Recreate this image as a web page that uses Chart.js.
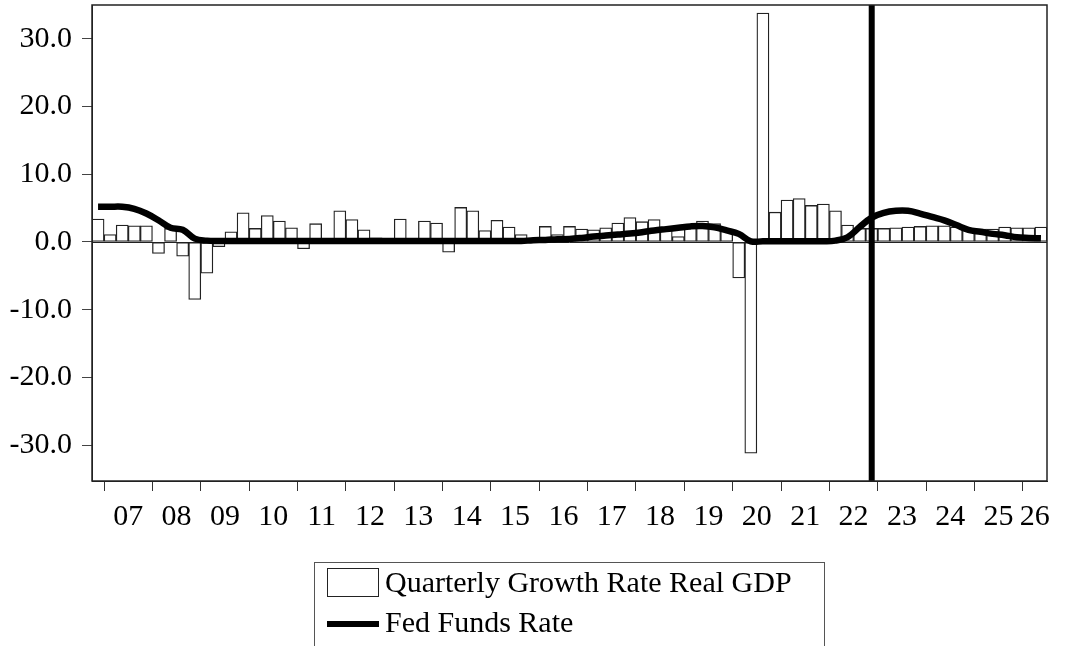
<!DOCTYPE html>
<html>
<head>
    <meta charset="utf-8" />
    <title>Real GDP Growth and Fed Funds Rate</title>
    <!-- Chart.js -->
    <script src="https://cdn.jsdelivr.net/npm/chart.js@4.4.0/dist/chart.umd.min.js"></script>
    <style>
        body { margin: 0; background: #fff; }
        #wrap { width: 1065px; height: 646px; position: relative; }
    </style>
</head>
<body>
<div id="wrap"><canvas id="myChart"></canvas></div>
<script>

// quarters 2006Q4 .. 2026Q2
var quarters = ['2006Q4'];
for (var yr = 2007; yr <= 2026; yr++) {
    for (var q = 1; q <= 4; q++) {
        if (yr === 2026 && q > 2) break;
        quarters.push(yr + 'Q' + q);
    }
}

// quarterly growth rate of real GDP (annualised, %)
var gdpGrowth = [
    3.4,
    1.1, 2.5, 2.4, 2.4,      // 2007
    -1.7, 2.0, -2.1, -8.5,   // 2008
    -4.6, -0.7, 1.5, 4.3,    // 2009
    2.0, 3.9, 3.1, 2.1,      // 2010
    -1.0, 2.7, -0.1, 4.6,    // 2011
    3.3, 1.8, 0.6, 0.1,      // 2012
    3.4, 0.3, 3.1, 2.8,      // 2013
    -1.5, 5.1, 4.6, 1.7,     // 2014
    3.2, 2.2, 1.1, 0.3,      // 2015
    2.3, 1.1, 2.3, 1.9,      // 2016
    1.8, 2.1, 2.8, 3.6,      // 2017
    3.0, 3.3, 1.9, 0.8,      // 2018
    2.3, 3.1, 2.7, 1.8,      // 2019
    -5.3, -31.2, 33.8, 4.4,  // 2020
    6.2, 6.4, 5.4, 5.6,      // 2021
    4.6, 2.5, 2.0, 2.0,      // 2022
    2.0, 2.1, 2.2, 2.3,      // 2023
    2.4, 2.4, 2.2, 2.0,      // 2024
    1.9, 1.9, 2.2, 2.1,      // 2025
    2.1, 2.2                 // 2026
];

// effective fed funds rate (%)
var fedFunds = [
    5.2,
    5.2, 5.2, 4.9, 4.2,      // 2007
    3.2, 2.1, 1.8, 0.5,      // 2008
    0.2, 0.15, 0.15, 0.15,   // 2009
    0.15, 0.15, 0.15, 0.15,  // 2010
    0.15, 0.15, 0.15, 0.15,  // 2011
    0.15, 0.15, 0.15, 0.15,  // 2012
    0.15, 0.15, 0.15, 0.15,  // 2013
    0.15, 0.15, 0.15, 0.15,  // 2014
    0.15, 0.15, 0.15, 0.25,  // 2015
    0.3, 0.4, 0.45, 0.6,     // 2016
    0.8, 0.95, 1.1, 1.25,    // 2017
    1.45, 1.7, 1.9, 2.1,     // 2018
    2.3, 2.35, 2.15, 1.7,    // 2019
    1.2, 0.1, 0.1, 0.1,      // 2020
    0.1, 0.1, 0.1, 0.1,      // 2021
    0.2, 0.7, 2.2, 3.6,      // 2022
    4.3, 4.6, 4.6, 4.2,      // 2023
    3.7, 3.2, 2.5, 1.8,      // 2024
    1.5, 1.2, 1.0, 0.7,      // 2025
    0.6, 0.55                // 2026
];

var yTicks = [-30, -20, -10, 0, 10, 20, 30];
var forecastStart = '2022Q4';

var FONT = '"Liberation Serif", "Times New Roman", serif';
var FONT_SIZE = 30;

// box round the plot, zero line, forecast marker and the legend
var framePlugin = {
    id: 'frame',
    beforeDatasetsDraw: function(chart) {
        var ctx = chart.ctx, a = chart.chartArea;
        var y0 = chart.scales.y.getPixelForValue(0);
        ctx.save();
        ctx.strokeStyle = '#222';
        ctx.lineWidth = 1;
        ctx.beginPath();
        ctx.moveTo(a.left, Math.round(y0) + 0.5);
        ctx.lineTo(a.right, Math.round(y0) + 0.5);
        ctx.stroke();
        ctx.restore();
    },
    afterDatasetsDraw: function(chart) {
        var ctx = chart.ctx, a = chart.chartArea;
        var xv = chart.scales.x.getPixelForValue(quarters.indexOf(forecastStart));
        ctx.save();
        ctx.strokeStyle = '#000';
        ctx.lineWidth = 6;
        ctx.beginPath();
        ctx.moveTo(xv, a.top);
        ctx.lineTo(xv, a.bottom);
        ctx.stroke();

        ctx.lineWidth = 1.5;
        ctx.strokeStyle = '#222';
        ctx.strokeRect(a.left, a.top, a.right - a.left, a.bottom - a.top);
        ctx.restore();
    },
    afterDraw: function(chart) {
        var ctx = chart.ctx;
        var barSet = chart.data.datasets.find(function(d) { return d.type !== 'line'; });
        var lineSet = chart.data.datasets.find(function(d) { return d.type === 'line'; });
        ctx.save();
        ctx.strokeStyle = '#555';
        ctx.lineWidth = 1;
        ctx.strokeRect(314.5, 562.5, 510, 120);

        // bar swatch
        ctx.fillStyle = '#fff';
        ctx.strokeStyle = '#222';
        ctx.fillRect(327, 568, 51, 28);
        ctx.strokeRect(327.5, 568.5, 51, 28);

        // line swatch
        ctx.strokeStyle = '#000';
        ctx.lineWidth = 6;
        ctx.beginPath();
        ctx.moveTo(327, 624);
        ctx.lineTo(379, 624);
        ctx.stroke();

        ctx.fillStyle = '#000';
        ctx.font = FONT_SIZE + 'px ' + FONT;
        ctx.textBaseline = 'middle';
        ctx.fillText(barSet.label, 385, 584);
        ctx.fillText(lineSet.label, 385, 624);
        ctx.restore();
    }
};

var ctx = document.getElementById('myChart').getContext('2d');
var chart = new Chart(ctx, {
    type: 'bar',
    data: {
        labels: quarters,
        datasets: [{
            type: 'line',
            label: 'Fed Funds Rate',
            data: fedFunds,
            borderColor: '#000',
            borderWidth: 6.5,
            pointRadius: 0,
            tension: 0.4,
            fill: false,
            order: 1
        }, {
            type: 'bar',
            label: 'Quarterly Growth Rate Real GDP',
            data: gdpGrowth,
            backgroundColor: '#fff',
            borderColor: '#222',
            borderWidth: 1.3,
            borderSkipped: false,
            barPercentage: 1,
            categoryPercentage: 1,
            order: 2
        }]
    },
    options: {
        responsive: true,
        maintainAspectRatio: false,
        animation: false,
        layout: { padding: { left: 0, right: 18, top: 5, bottom: 120 } },
        plugins: {
            legend: { display: false },
            tooltip: { enabled: false }
        },
        scales: {
            x: {
                offset: true,
                grid: {
                    offset: true,
                    drawOnChartArea: false,
                    tickLength: 10,
                    tickColor: function(c) {
                        if (c.type !== 'tick') return 'rgba(0,0,0,0)';
                        return quarters[c.index].slice(5) === '1' ? '#333' : 'rgba(0,0,0,0)';
                    }
                },
                border: { display: true, color: '#222' },
                ticks: {
                    autoSkip: false,
                    maxRotation: 0,
                    minRotation: 0,
                    padding: 8,
                    labelOffset: 6,
                    color: '#000',
                    font: { family: FONT, size: FONT_SIZE },
                    callback: function(value, index) {
                        var lbl = quarters[index];
                        var last = quarters.length - 1;
                        // year label sits mid-year; the last, short year keeps it inside the frame
                        if (index === last) return '';
                        if (index === last - 1 && quarters[last].slice(5) === '2') return lbl.slice(2, 4);
                        return lbl.slice(5) === '2' ? lbl.slice(2, 4) : '';
                    }
                },
                afterFit: function(scale) {
                    scale.height = 45;
                    scale.paddingLeft = 0;
                    scale.paddingRight = 0;
                }
            },
            y: {
                min: -35.3,
                max: 35,
                grid: {
                    drawOnChartArea: false,
                    tickLength: 10,
                    tickColor: '#444'
                },
                border: { display: true, color: '#222' },
                ticks: {
                    padding: 10,
                    color: '#000',
                    font: { family: FONT, size: FONT_SIZE },
                    callback: function(v) { return v.toFixed(1); }
                },
                afterBuildTicks: function(scale) {
                    scale.ticks = yTicks.map(function(v) { return { value: v }; });
                },
                afterFit: function(scale) {
                    scale.width = 92;
                    scale.paddingTop = 0;
                    scale.paddingBottom = 0;
                }
            }
        }
    },
    plugins: [framePlugin]
});

</script>
</body>
</html>
